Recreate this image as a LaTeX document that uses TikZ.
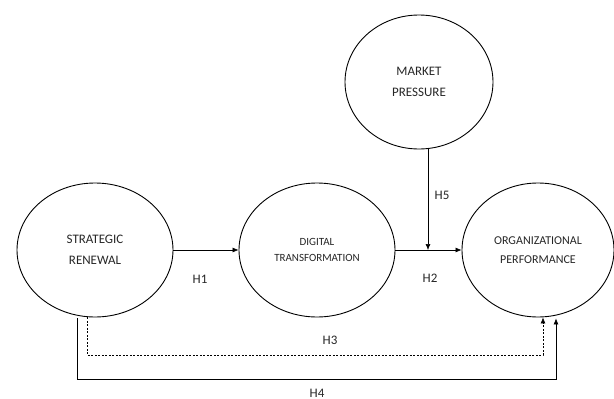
\documentclass[tikz,border=0pt]{standalone}
\usepackage{fontspec}
\setmainfont{Carlito}
\usetikzlibrary{shapes.geometric,arrows.meta}

\tikzset{
  construct/.style={draw, ellipse, line width=0.9pt, inner sep=0pt, align=center,
    minimum width=156pt, minimum height=134pt, text=black!85},
  path/.style={line width=0.6pt, -{Latex[length=6pt,width=5pt]}},
  hlabel/.style={font=\fontsize{13}{15}\selectfont, text=black!85}
}

\begin{document}
\begin{tikzpicture}[x=1pt,y=-1pt]

\useasboundingbox (0,0) rectangle (614,399);

%% Constructs
\node [construct, font=\fontsize{13}{20.5}\selectfont] (sr) at (95,250) {STRATEGIC\\RENEWAL};
\node [construct, font=\fontsize{11}{16.5}\selectfont] (dt) at (317,250) {DIGITAL\\TRANSFORMATION};
\node [construct, minimum width=152pt, font=\fontsize{12}{19}\selectfont] (op) at (538,250) {ORGANIZATIONAL\\PERFORMANCE};
\node [construct, minimum width=148pt, font=\fontsize{13}{20.5}\selectfont] (mp) at (419,82) {MARKET\\PRESSURE};

%% Direct paths
\draw [path] (sr.east) -- (dt.west);
\node [hlabel] (h1) at (200,279) {H1};

\draw [path] (dt.east) -- (op.west);
\node [hlabel] (h2) at (430,278) {H2};

%% Moderation
\coordinate (h5end) at (428,250);
\draw [path] (mp.south -| h5end) -- (h5end);
\node [hlabel] (h5) at (442,195) {H5};

%% Dashed path
\coordinate (h3l) at (87,355);
\coordinate (h3r) at (543,355);
\draw [path, dash pattern=on 2pt off 1.5pt] (sr.south -| h3l) |- (h3r) -- (op.south -| h3r);
\node [hlabel] (h3) at (330,340) {H3};

%% Total path
\coordinate (h4l) at (77,379);
\coordinate (h4r) at (556,379);
\draw [path] ([yshift=-1pt]sr.south -| h4l) |- (h4r) -- ([yshift=-1pt]op.south -| h4r);
\node [hlabel] (h4) at (317,393) {H4};

\end{tikzpicture}
\end{document}
